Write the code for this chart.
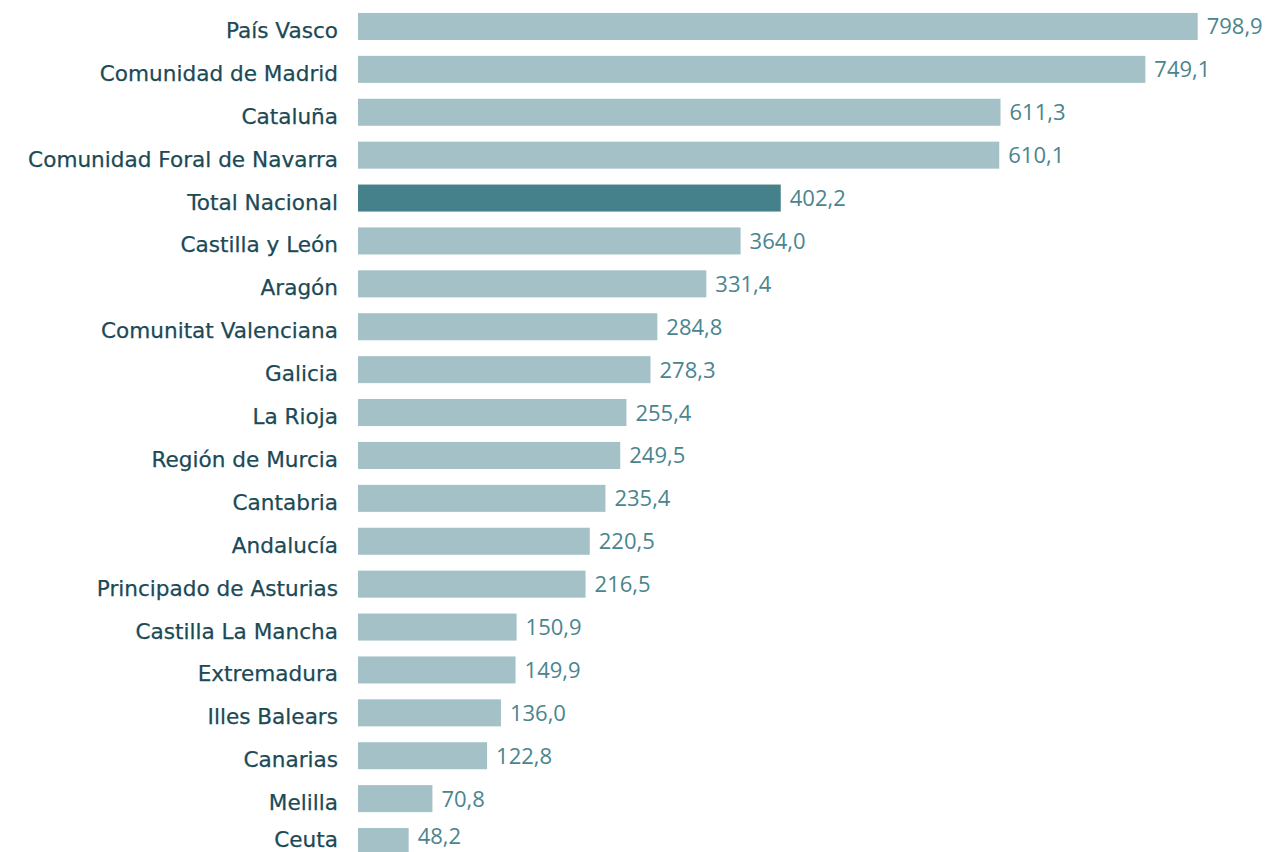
<!DOCTYPE html>
<html>
<head>
<meta charset="utf-8">
<script src="https://cdn.jsdelivr.net/npm/d3@7"></script>
<style>
  html, body { margin: 0; padding: 0; background: #ffffff; }
  svg { display: block; }
</style>
</head>
<body>
<div id="chart"></div>
<script>
const regions = [
  "País Vasco", "Comunidad de Madrid", "Cataluña", "Comunidad Foral de Navarra",
  "Total Nacional", "Castilla y León", "Aragón", "Comunitat Valenciana",
  "Galicia", "La Rioja", "Región de Murcia", "Cantabria", "Andalucía",
  "Principado de Asturias", "Castilla La Mancha", "Extremadura",
  "Illes Balears", "Canarias", "Melilla", "Ceuta"
];
const values = [
  798.9, 749.1, 611.3, 610.1, 402.2, 364.0, 331.4, 284.8, 278.3, 255.4,
  249.5, 235.4, 220.5, 216.5, 150.9, 149.9, 136.0, 122.8, 70.8, 48.2
];
const highlighted = ["Total Nacional"];

const WIDTH = 1265;
const HEIGHT = 852;
const BAR_LEFT = 358;
const LABEL_RIGHT = 338;
const BAR_FILL = "#a3c1c6";
const HIGHLIGHT_FILL = "#45818a";
const LABEL_COLOR = "#1b4a56";
const VALUE_COLOR = "#4a858e";
const LABEL_FONT = "'DejaVu Sans', 'Noto Sans', sans-serif";
const VALUE_FONT = "'Open Sans', 'Noto Sans', sans-serif";

const rows = regions.map((name, i) => ({ name, value: values[i] }));

const esLocale = d3.formatLocale({
  decimal: ",",
  thousands: ".",
  grouping: [3],
  currency: ["", " €"],
});
const formatValue = esLocale.format(".1f");

const svg = d3
  .select("#chart")
  .append("svg")
  .attr("width", WIDTH)
  .attr("height", HEIGHT)
  .attr("viewBox", [0, 0, WIDTH, HEIGHT]);

const x = d3
  .scaleLinear()
  .domain([0, 798.9])
  .range([BAR_LEFT, 1197.7]);

const y = d3
  .scaleBand()
  .domain(regions)
  .range([5, 863])
  .paddingInner(0.37)
  .paddingOuter(0.185);

const barHeight = y.bandwidth();
// the last row sits on the bottom edge, keep its texts inside the picture
const clampBaseline = (v, limit) => Math.min(v, limit);

svg
  .append("g")
  .attr("class", "bars")
  .selectAll("rect")
  .data(rows)
  .join("rect")
  .attr("x", x(0))
  .attr("y", (d) => y(d.name))
  .attr("width", (d) => x(d.value) - x(0))
  .attr("height", barHeight)
  .attr("fill", (d) => (highlighted.includes(d.name) ? HIGHLIGHT_FILL : BAR_FILL));

// region names, right aligned against the bars
svg
  .append("g")
  .attr("class", "labels")
  .selectAll("text")
  .data(rows)
  .join("text")
  .attr("x", LABEL_RIGHT)
  .attr("y", (d) => clampBaseline(y(d.name) + barHeight / 2 + 11.5, HEIGHT - 5))
  .attr("text-anchor", "end")
  .attr("font-family", LABEL_FONT)
  .attr("font-size", 21.6)
  .attr("fill", LABEL_COLOR)
  .attr("stroke", LABEL_COLOR)
  .attr("stroke-width", 0.25)
  .text((d) => d.name);

// values at the end of each bar
svg
  .append("g")
  .attr("class", "values")
  .selectAll("text")
  .data(rows)
  .join("text")
  .attr("x", (d) => x(d.value) + 9)
  .attr("y", (d) => clampBaseline(y(d.name) + barHeight / 2 + 8, HEIGHT - 8))
  .attr("font-family", VALUE_FONT)
  .attr("font-size", 22)
  .attr("fill", VALUE_COLOR)
  .text((d) => formatValue(d.value));
</script>
</body>
</html>
